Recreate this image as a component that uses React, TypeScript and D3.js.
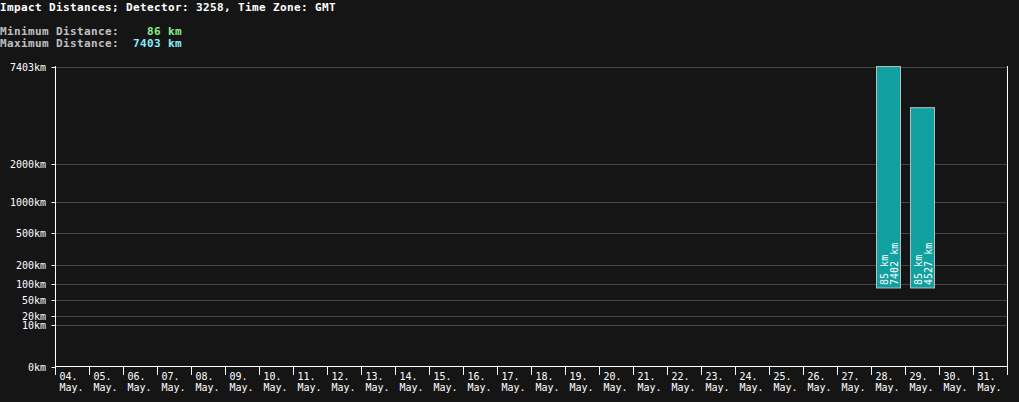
import { useEffect, useRef } from 'react';
import * as d3 from 'd3';

const days = ['04.', '05.', '06.', '07.', '08.', '09.', '10.', '11.', '12.', '13.', '14.', '15.', '16.', '17.',
  '18.', '19.', '20.', '21.', '22.', '23.', '24.', '25.', '26.', '27.', '28.', '29.', '30.', '31.'];
const monthLabel = 'May.';
const barDays = ['28.', '29.'];
const barMin = [85, 85];
const barMax = [7402, 4527];
const yTicks = [0, 10, 20, 50, 100, 200, 500, 1000, 2000, 7403];
const minDistance = 86;
const maxDistance = 7403;

const FONT = '"DejaVu Sans Mono", "Liberation Mono", monospace';

export default function App() {
  const svgRef = useRef<SVGSVGElement>(null);

  useEffect(() => {
    if (!svgRef.current) return;
    const svg = d3.select(svgRef.current);
    svg.selectAll('*').remove();

    const width = 1019;
    const height = 402;
    const left = 55.5;
    const right = 1007.5;
    const top = 66.5;
    const bottom = 366.5;

    svg.attr('width', width).attr('height', height);
    svg.append('rect').attr('width', width).attr('height', height).attr('fill', '#151515');

    // 헤더
    svg.append('text')
      .attr('x', 0).attr('y', 11)
      .attr('font-family', FONT).attr('font-size', '11px').attr('letter-spacing', '0.38px')
      .attr('font-weight', 'bold')
      .attr('fill', '#ffffff')
      .text('Impact Distances; Detector: 3258, Time Zone: GMT');

    const info = [
      { label: 'Minimum Distance:    ', value: `${minDistance} km`, color: '#88ee88', y: 35 },
      { label: 'Maximum Distance:  ', value: `${maxDistance} km`, color: '#88eeff', y: 47 },
    ];
    info.forEach(r => {
      const t = svg.append('text')
        .attr('x', 0).attr('y', r.y)
        .attr('font-family', FONT).attr('font-size', '11px').attr('letter-spacing', '0.38px')
        .attr('font-weight', 'bold')
        .style('white-space', 'pre');
      t.append('tspan').attr('fill', '#c0c0c0').text(r.label);
      t.append('tspan').attr('fill', r.color).text(r.value);
    });

    const x = d3.scaleBand<string>().domain(days).range([left, right]).padding(0);
    const y = d3.scalePow().exponent(0.3).domain([0, maxDistance]).range([bottom, top]);

    // 그리드
    svg.append('g').selectAll('line')
      .data(yTicks.filter(t => t > 0))
      .enter().append('line')
      .attr('x1', left).attr('x2', right)
      .attr('y1', d => Math.round(y(d)) + 0.5).attr('y2', d => Math.round(y(d)) + 0.5)
      .attr('stroke', '#444444').attr('stroke-width', 1);

    // Y 축
    const yAxis = svg.append('g');
    yAxis.append('line').attr('x1', left).attr('x2', left).attr('y1', top - 0.5).attr('y2', 375)
      .attr('stroke', '#ffffff');
    yAxis.selectAll('line.tick').data(yTicks).enter().append('line')
      .attr('class', 'tick')
      .attr('x1', left - 4).attr('x2', left)
      .attr('y1', d => Math.round(y(d)) + 0.5).attr('y2', d => Math.round(y(d)) + 0.5)
      .attr('stroke', '#ffffff');
    yAxis.selectAll('text').data(yTicks).enter().append('text')
      .attr('x', 46).attr('y', d => Math.round(y(d)) + 0.5)
      .attr('dy', '0.35em')
      .attr('text-anchor', 'end')
      .attr('font-family', FONT).attr('font-size', '10px')
      .attr('fill', '#ffffff')
      .text(d => `${d}km`);

    // 오른쪽 테두리
    svg.append('line').attr('x1', right).attr('x2', right).attr('y1', top - 0.5).attr('y2', 375)
      .attr('stroke', '#ffffff');

    // X 축
    const xAxis = svg.append('g');
    xAxis.append('line').attr('x1', left).attr('x2', right).attr('y1', bottom).attr('y2', bottom)
      .attr('stroke', '#ffffff');
    xAxis.selectAll('line.tick').data(days.slice(1)).enter().append('line')
      .attr('class', 'tick')
      .attr('x1', d => x(d) ?? 0).attr('x2', d => x(d) ?? 0)
      .attr('y1', bottom).attr('y2', 375)
      .attr('stroke', '#ffffff');
    const labels = xAxis.selectAll('text').data(days).enter().append('text')
      .attr('font-family', FONT).attr('font-size', '10px')
      .attr('fill', '#ffffff');
    labels.append('tspan').attr('x', d => (x(d) ?? 0) + 4).attr('y', 380).text(d => d);
    labels.append('tspan').attr('x', d => (x(d) ?? 0) + 4).attr('y', 390.5).text(monthLabel);

    // 막대
    const bars = barDays.map((d, i) => ({ day: d, min: barMin[i], max: barMax[i] }));
    const inset = 5;
    svg.append('g').selectAll('rect').data(bars).enter().append('rect')
      .attr('x', d => (x(d.day) ?? 0) + inset)
      .attr('width', x.bandwidth() - inset * 2)
      .attr('y', d => y(d.max))
      .attr('height', d => y(d.min) - y(d.max))
      .attr('fill', '#11a0a0')
      .attr('stroke', '#bbbbbb').attr('stroke-width', 1);

    const barText = svg.append('g').selectAll('text').data(bars).enter().append('text')
      .attr('transform', d => `translate(${(x(d.day) ?? 0) + x.bandwidth() / 2},${y(d.min) - 3}) rotate(-90)`)
      .attr('font-family', FONT).attr('font-size', '10px')
      .attr('fill', '#ffffff');
    barText.append('tspan').attr('x', 0).attr('y', -1).text(d => `${d.min} km`);
    barText.append('tspan').attr('x', 0).attr('y', 9.5).text(d => `${d.max} km`);
  }, []);

  return (
    <svg ref={svgRef} style={{ position: 'absolute', left: 0, top: 0, display: 'block' }}></svg>
  );
}
